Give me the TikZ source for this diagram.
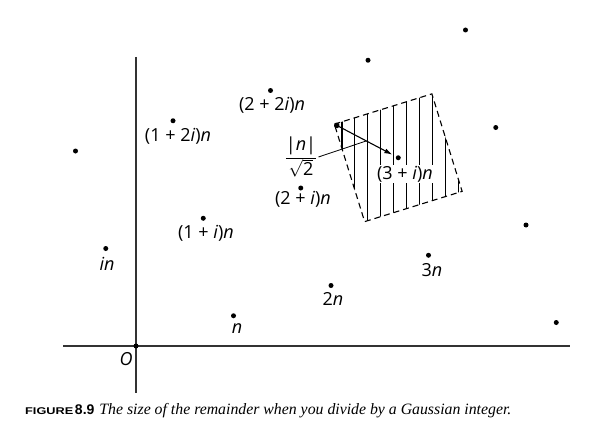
\documentclass[tikz,border=0pt]{standalone}
\usepackage{fontspec}
\setmainfont{Liberation Serif}
\newfontfamily\labfont{Open Sans}
\newfontfamily\capsans{Liberation Sans}
\usetikzlibrary{arrows.meta,calc}
\tikzset{
  lat/.style={circle,fill=black,inner sep=0pt,minimum size=5pt},
  lab/.style={font=\labfont\fontsize{18}{20}\selectfont,inner sep=1pt},
  axis/.style={line width=1.3pt,draw=black!80},
  hatch/.style={line width=1.1pt},
  cell/.style={dashed,dash pattern=on 6pt off 4pt,line width=1.1pt},
}
\begin{document}
\begin{tikzpicture}[x=1pt,y=-1pt]
\useasboundingbox (0,0) rectangle (610,444);
% axes
\coordinate (xl) at (63,346);
\coordinate (xr) at (570,346);
\coordinate (yt) at (136,57);
\coordinate (yb) at (136,393);
\draw[axis] (xl) -- (xr);
\draw[axis] (yt) -- (yb);
% lattice points
\node[lat] (O) at (136,346) {};
\node[lat] (p10) at (233.5,315.75) {};
\node[lat] (p20) at (331,285.5) {};
\node[lat] (p30) at (428.5,255.25) {};
\node[lat] (p40) at (526,225) {};
\node[lat] (p01) at (105.75,248.5) {};
\node[lat] (p11) at (203.25,218.25) {};
\node[lat] (p21) at (300.75,188) {};
\node[lat] (p31) at (398.25,157.75) {};
\node[lat] (p41) at (495.75,127.5) {};
\node[lat] (p02) at (75.5,151) {};
\node[lat] (p12) at (173,120.75) {};
\node[lat] (p22) at (270.5,90.5) {};
\node[lat] (p32) at (368,60.25) {};
\node[lat] (p42) at (465.5,30) {};
\node[lat] (p4m) at (556.25,322.5) {};
% cell around (3+i)n
\coordinate (TL) at (334.375,124.125);
\coordinate (TR) at (431.875,93.875);
\coordinate (BR) at (462.125,191.375);
\coordinate (BL) at (364.625,221.625);
\begin{scope}
  \clip (TL) -- (TR) -- (BR) -- (BL) -- cycle;
  \foreach \k in {0,...,9} {
    \coordinate (ht\k) at ({342+12.9*\k},80);
    \coordinate (hb\k) at ({342+12.9*\k},240);
    \draw[hatch] (ht\k) -- (hb\k);
  }
\end{scope}
\draw[cell] (TL) -- (TR) -- (BR) -- (BL) -- cycle;
% labels
\node[lab] (lO) at (126,359) {\itshape O};
\node[lab] (l10) at (237,329) {\itshape n};
\node[lab] (l20) at (333,299) {2\textit{n}};
\node[lab] (l30) at (432,270) {3\textit{n}};
\node[lab] (l01) at (107,264) {\itshape in};
\node[lab] (l11) at (206,233) {(1 + \textit{i})\textit{n}};
\node[lab] (l12) at (178,136) {(1 + 2\textit{i})\textit{n}};
\node[lab] (l22) at (272,105) {(2 + 2\textit{i})\textit{n}};
\node[lab] (l21) at (303,199) {(2 + \textit{i})\textit{n}};
\node[lab,fill=white,inner sep=0.5pt] (l31) at (405,174) {(3 + \textit{i})\textit{n}};
% arrow and its label
\coordinate (mid) at ($(TL)!0.5!(p31)$);
\draw[line width=1.1pt,{Circle[length=5.5pt]}-{Latex[length=8pt,width=5pt]},shorten >=4pt] (TL) -- (p31);
\node[lab] (frac) at (301,157) {$\displaystyle\frac{\mbox{\labfont|\textit{n}|}}{\sqrt{\mbox{\labfont 2}}}$};
\draw[line width=0.8pt] (frac.east) -- (mid);
% caption
\node[anchor=base west,inner sep=0pt] (cap) at (25,414)
  {{\capsans\bfseries\scalebox{1.3}[1]{\fontsize{9.8}{12}\selectfont FIGURE}\,\fontsize{14}{17}\selectfont 8.9}\hspace{5pt}{\itshape\fontsize{15.8}{18}\selectfont The size of the remainder when you divide by a Gaussian integer.}};
\end{tikzpicture}
\end{document}
